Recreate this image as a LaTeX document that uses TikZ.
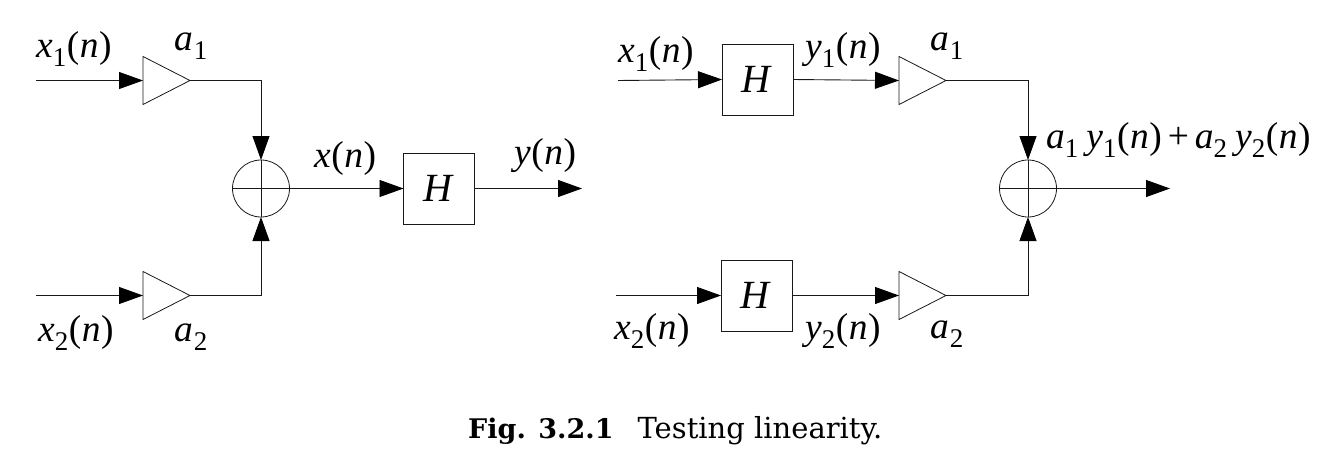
\documentclass[tikz,border=0pt]{standalone}
\usepackage{fontspec}
\setmainfont{Liberation Serif}
\newfontfamily\capfont{DejaVu Serif}
\usetikzlibrary{arrows.meta,shapes.geometric}
\newcommand{\sbs}[1]{\raisebox{-0.24em}{\fontsize{27}{30}\selectfont\upshape #1}}
\newcommand{\argn}{\kern.5pt\upshape(\itshape\kern.5pt n\kern.5pt\upshape)\itshape}
\tikzset{
  x=1pt,y=-1pt,
  wire/.style={draw=black!90,line width=.9pt},
  arr/.style={wire,-{Triangle[length=24pt,width=17pt]},arrows={[color=black]}},
  amp/.style={shape=isosceles triangle,draw=black!90,line width=.8pt,isosceles triangle stretches,
    minimum width=48pt,minimum height=47pt,inner sep=0pt,outer sep=0pt,anchor=lower side},
  sumnode/.style={shape=circle,draw=black!90,line width=.8pt,minimum size=57pt,inner sep=0pt,outer sep=0pt},
  sys/.style={shape=rectangle,draw=black!90,line width=.8pt,minimum width=71pt,minimum height=71pt,inner sep=0pt,outer sep=0pt,
    font=\fontsize{40}{44}\selectfont\itshape},
  lab/.style={anchor=base west,inner sep=0pt,font=\fontsize{37.5}{44}\selectfont\itshape},
  captext/.style={anchor=base west,inner sep=0pt,font=\fontsize{29}{34}\selectfont\capfont}
}
\begin{document}
\begin{tikzpicture}
\useasboundingbox (0,0) rectangle (1332,458);
% left
\coordinate (i1) at (36,80.5);
\coordinate (i2) at (36,295.5);
\coordinate (o1) at (582,188.5);
\node[amp] (t1) at (143,80.5) {};
\node[amp] (t2) at (143,295.5) {};
\node[sumnode] (s1) at (261,188.5) {};
\node[sys] (h1) at (439,188.5) {\kern-3pt H};
\draw[arr] (i1) -- (t1.lower side);
\draw[arr] (i2) -- (t2.lower side);
\draw[arr] (t1.apex) -| (s1.north);
\draw[arr] (t2.apex) -| (s1.south);
\draw[arr] (s1.east) -- (h1.west);
\draw[arr] (h1.east) -- (o1);
\draw[wire,line width=.8pt] (s1.west) -- (s1.east) (s1.north) -- (s1.south);
% right
\coordinate (i3) at (618,80.5);
\coordinate (i4) at (616,295.5);
\coordinate (o2) at (1170,188.5);
\node[sys] (h2) at (757.5,79.5) {\kern-3pt H};
\node[sys] (h3) at (756.5,295.5) {\kern-3pt H};
\node[amp] (t3) at (899,80.5) {};
\node[amp] (t4) at (899,295.5) {};
\node[sumnode] (s2) at (1028,188.5) {};
\draw[arr] (i3) -- (h2.west);
\draw[arr] (i4) -- (h3.west);
\draw[arr] (h2.east) -- (t3.lower side);
\draw[arr] (h3.east) -- (t4.lower side);
\draw[arr] (t3.apex) -| (s2.north);
\draw[arr] (t4.apex) -| (s2.south);
\draw[arr] (s2.east) -- (o2);
\draw[wire,line width=.8pt] (s2.west) -- (s2.east) (s2.north) -- (s2.south);
% labels
\node[lab] (l1) at (36,57) {x\sbs{1}\argn};
\node[lab] (l2) at (174,50) {a\kern1pt\sbs{1}};
\node[lab] (l3) at (38,341) {x\sbs{2}\argn};
\node[lab] (l4) at (174,341) {a\kern1pt\sbs{2}};
\node[lab] (l5) at (314,167) {x\argn};
\node[lab] (l6) at (514,164) {y\argn};
\node[lab] (l7) at (618,62) {x\sbs{1}\argn};
\node[lab] (l8) at (805,58) {y\sbs{1}\argn};
\node[lab] (l9) at (930,50) {a\kern1pt\sbs{1}};
\node[lab] (l10) at (614,339) {x\sbs{2}\argn};
\node[lab] (l11) at (805,339) {y\sbs{2}\argn};
\node[lab] (l12) at (930,338) {a\kern1pt\sbs{2}};
\node[lab] (l13) at (1046,148) {a\sbs{1}\kern8pt y\sbs{1}\argn\kern6pt\upshape+\kern6pt\itshape a\sbs{2}\kern8pt y\sbs{2}\argn};
\node[captext] (c1) at (468,438) {{\fontsize{27}{30}\selectfont\bfseries Fig. 3.2.1}\hspace{24pt}Testing linearity.};
\end{tikzpicture}
\end{document}
